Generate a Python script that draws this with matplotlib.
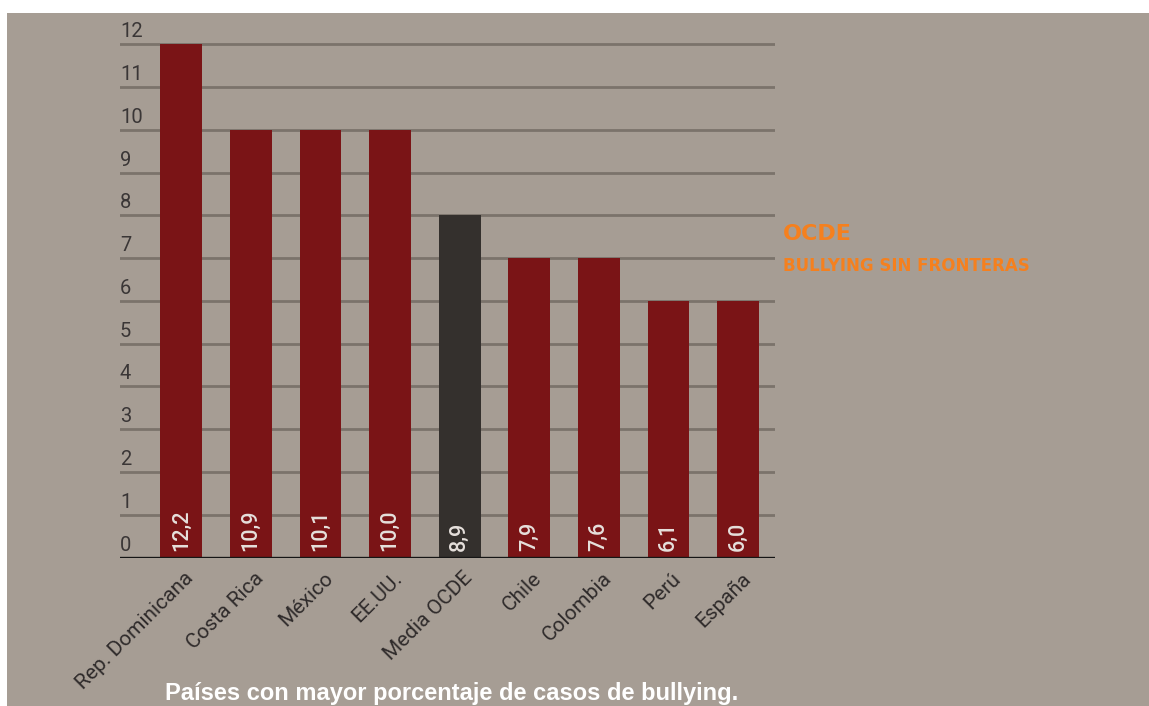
import matplotlib.pyplot as plt
from matplotlib.patches import Rectangle

paises = ["Rep. Dominicana", "Costa Rica", "México", "EE.UU.", "Media OCDE",
          "Chile", "Colombia", "Perú", "España"]
# bar heights as drawn in the picture
alturas = [12, 10, 10, 10, 8, 7, 7, 6, 6]
# value labels printed inside the bars
etiquetas = ["12,2", "10,9", "10,1", "10,0", "8,9", "7,9", "7,6", "6,1", "6,0"]
yticks = list(range(0, 13))

fondo = "#a69d94"
rojo = "#7a1416"
oscuro = "#34302d"
colores = [oscuro if p == "Media OCDE" else rojo for p in paises]

fig = plt.figure(figsize=(11.49, 7.06), dpi=100, facecolor="white")
fig.patches.append(Rectangle((7/1149, 0), 1, 1 - 13/706, transform=fig.transFigure,
                             facecolor=fondo, edgecolor="none", zorder=-5))

ax = fig.add_axes([120/1149, 1 - 557.5/706, 655/1149, 514.5/706])
ax.set_facecolor("none")
ax.set_xlim(-0.88, 8.53)
ax.set_ylim(0, 12.03)

for s in ax.spines.values():
    s.set_visible(False)
ax.set_yticks(yticks)
ax.set_yticklabels([])
ax.tick_params(axis="both", length=0)
ax.yaxis.grid(True, color="#7b736b", lw=2)
ax.set_axisbelow(True)

x = list(range(len(paises)))
ax.bar(x, alturas, width=0.6, color=colores, zorder=2)
ax.axhline(0, color="#151515", lw=2.4, zorder=3)

fuente = ["Roboto", "DejaVu Sans"]
for v in yticks:
    ax.annotate(str(v), xy=(0, v), xycoords=("axes fraction", "data"),
                xytext=(0, 5), textcoords="offset points", ha="left", va="baseline",
                fontsize=14.5, color="#3a3636", family=fuente)

for i, lab in enumerate(etiquetas):
    ax.annotate(lab, xy=(i, 0), xytext=(0, 5), textcoords="offset points",
                rotation=90, ha="center", va="bottom", fontsize=15.5,
                fontweight="medium", color="#e6e0dc", family=fuente, zorder=4)

ax.set_xticks(x)
ax.set_xticklabels([])
for i, p in enumerate(paises):
    ax.annotate(p, xy=(i, 0), xytext=(2, -8), textcoords="offset points",
                rotation=45, rotation_mode="anchor", ha="right", va="top",
                fontsize=15, color="#2f2b2b", family=fuente)

naranja = "#f5801e"
fig.text(783/1149, 1 - 240/706, "OCDE", fontsize=16, color=naranja,
         family="DejaVu Sans", fontweight="bold", ha="left", va="baseline")
fig.text(783/1149, 1 - 271/706, "BULLYING SIN FRONTERAS", fontsize=12, color=naranja,
         family="DejaVu Sans", fontweight="bold", ha="left", va="baseline")

fig.text(452/1149, 1 - 700/706, "Países con mayor porcentaje de casos de bullying.",
         fontsize=17, color="white", fontweight="bold",
         family=["Liberation Sans", "DejaVu Sans"], ha="center", va="baseline")

fig.savefig("out.png", dpi=100, facecolor="white")
